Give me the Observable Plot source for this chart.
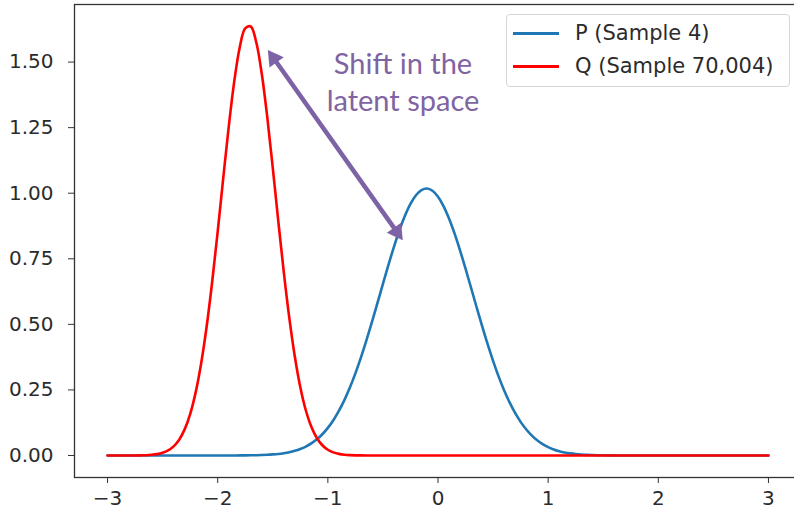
<!DOCTYPE html>
<html>
<head>
<meta charset="utf-8">
<script src="https://cdn.jsdelivr.net/npm/d3@7"></script>
<script src="https://cdn.jsdelivr.net/npm/@observablehq/plot@0.6"></script>
<style>
  html, body { margin: 0; padding: 0; background: #fff; }
  #wrap { position: relative; width: 794px; height: 514px; overflow: hidden; background: #fff; }
  #wrap svg { max-width: none !important; display: block; }
  #legend {
    position: absolute; left: 506px; top: 14px; width: 282px; height: 71px;
    border: 1px solid #d6d6d6; border-radius: 4px; background: rgba(255,255,255,0.85);
    font-family: "DejaVu Sans", sans-serif; font-size: 21px; color: #2b2b2b;
  }
  #legend .row { position: absolute; left: 0; height: 30px; width: 100%; }
  #legend .swatch { position: absolute; left: 6px; width: 46px; height: 3px; top: 14px; }
  #legend .label { position: absolute; left: 68px; top: 0; line-height: 30px; white-space: nowrap; }
</style>
</head>
<body>
<div id="wrap"><div id="legend"></div></div>
<script>
// Sample grid along the latent axis
const xs = [
  -3.00, -2.95, -2.90, -2.85, -2.80, -2.75, -2.70, -2.65, -2.60, -2.55,
  -2.50, -2.45, -2.40, -2.35, -2.30, -2.25, -2.20, -2.15, -2.10, -2.05,
  -2.00, -1.95, -1.90, -1.85, -1.80, -1.75, -1.70, -1.65, -1.60, -1.55,
  -1.50, -1.45, -1.40, -1.35, -1.30, -1.25, -1.20, -1.15, -1.10, -1.05,
  -1.00, -0.95, -0.90, -0.85, -0.80, -0.75, -0.70, -0.65, -0.60, -0.55,
  -0.50, -0.45, -0.40, -0.35, -0.30, -0.25, -0.20, -0.15, -0.10, -0.05,
   0.00,  0.05,  0.10,  0.15,  0.20,  0.25,  0.30,  0.35,  0.40,  0.45,
   0.50,  0.55,  0.60,  0.65,  0.70,  0.75,  0.80,  0.85,  0.90,  0.95,
   1.00,  1.05,  1.10,  1.15,  1.20,  1.25,  1.30,  1.35,  1.40,  1.45,
   1.50,  1.55,  1.60,  1.65,  1.70,  1.75,  1.80,  1.85,  1.90,  1.95,
   2.00,  2.05,  2.10,  2.15,  2.20,  2.25,  2.30,  2.35,  2.40,  2.45,
   2.50,  2.55,  2.60,  2.65,  2.70,  2.75,  2.80,  2.85,  2.90,  2.95,
   3.00
];

// P (Sample 4) density
const pValues = [
  0, 0, 0, 0, 0, 0, 0, 0, 0, 0,
  0, 0, 0, 0, 0, 0, 0, 0, 0, 0,
  0, 0.0001, 0.0001, 0.0002, 0.0003, 0.0005, 0.0008, 0.0012, 0.0018, 0.0027,
  0.0041, 0.0060, 0.0088, 0.0126, 0.0178, 0.0248, 0.0340, 0.0461, 0.0615, 0.0810,
  0.1052, 0.1345, 0.1697, 0.2111, 0.2589, 0.3130, 0.3732, 0.4387, 0.5083, 0.5808,
  0.6542, 0.7265, 0.7956, 0.8588, 0.9140, 0.9591, 0.9922, 1.0122, 1.0179, 1.0093,
  0.9866, 0.9510, 0.9037, 0.8467, 0.7820, 0.7122, 0.6395, 0.5661, 0.4941, 0.4252,
  0.3607, 0.3017, 0.2489, 0.2024, 0.1622, 0.1282, 0.0999, 0.0768, 0.0581, 0.0434,
  0.0320, 0.0232, 0.0166, 0.0117, 0.0082, 0.0056, 0.0038, 0.0025, 0.0017, 0.0011,
  0.0007, 0.0004, 0.0003, 0.0002, 0.0001, 0.0001, 0, 0, 0, 0,
  0, 0, 0, 0, 0, 0, 0, 0, 0, 0,
  0, 0, 0, 0, 0, 0, 0, 0, 0, 0,
  0
];

// Q (Sample 70,004) density
const qValues = [
  0, 0, 0, 0, 0.0001, 0.0002, 0.0006, 0.0012, 0.0026, 0.0053,
  0.0103, 0.0194, 0.0349, 0.0602, 0.0996, 0.1581, 0.2407, 0.3518, 0.4928, 0.6625,
  0.8540, 1.0562, 1.2527, 1.4255, 1.5558, 1.6287, 1.6355, 1.5754, 1.4554, 1.2900,
  1.0965, 0.8940, 0.6992, 0.5246, 0.3776, 0.2606, 0.1725, 0.1096, 0.0668, 0.0390,
  0.0219, 0.0118, 0.0061, 0.0030, 0.0014, 0.0006, 0.0003, 0.0001, 0, 0,
  0, 0, 0, 0, 0, 0, 0, 0, 0, 0,
  0, 0, 0, 0, 0, 0, 0, 0, 0, 0,
  0, 0, 0, 0, 0, 0, 0, 0, 0, 0,
  0, 0, 0, 0, 0, 0, 0, 0, 0, 0,
  0, 0, 0, 0, 0, 0, 0, 0, 0, 0,
  0, 0, 0, 0, 0, 0, 0, 0, 0, 0,
  0, 0, 0, 0, 0, 0, 0, 0, 0, 0,
  0
];

const seriesNames = ["P (Sample 4)", "Q (Sample 70,004)"];
const seriesColors = ["#1f77b4", "#ff0000"];

const xTicks = [-3, -2, -1, 0, 1, 2, 3];
const xTickLabels = ["\u22123", "\u22122", "\u22121", "0", "1", "2", "3"];
const yTicks = [0, 0.25, 0.5, 0.75, 1.0, 1.25, 1.5];
const yTickLabels = ["0.00", "0.25", "0.50", "0.75", "1.00", "1.25", "1.50"];

// Double-headed arrow between the two peaks, and its caption
const arrowX = [-1.545, -0.320];
const arrowY = [1.546, 0.821];
const noteLines = ["Shift in the", "latent space"];
const noteX = [-0.318];
const noteY = [1.429];

const purple = "#7d62a6";

const pRows = xs.map((x, i) => ({x, y: pValues[i]}));
const qRows = xs.map((x, i) => ({x, y: qValues[i]}));

const headR = 6.5;
const headOff = 1.555 * headR;  // centroid-to-tip distance of the triangle symbol
const ux = 0.579, uy = 0.815;   // unit direction of the shaft on screen

const chart = Plot.plot({
  width: 801,
  height: 514,
  marginLeft: 74,
  marginRight: 0,
  marginTop: 4,
  marginBottom: 37,
  style: {fontFamily: "DejaVu Sans, sans-serif", fontSize: "20px", color: "#2b2b2b", background: "transparent", maxWidth: "none"},
  x: {domain: [-3.3, 3.3], label: null},
  y: {domain: [-0.0839, 1.7195], label: null},
  marks: [
    Plot.line(pRows, {x: "x", y: "y", stroke: seriesColors[0], strokeWidth: 2.6, curve: "catmull-rom"}),
    Plot.line(qRows, {x: "x", y: "y", stroke: seriesColors[1], strokeWidth: 2.6, curve: "catmull-rom"}),
    Plot.arrow([0], {
      x1: () => arrowX[0], y1: () => arrowY[0], x2: () => arrowX[1], y2: () => arrowY[1],
      stroke: purple, strokeWidth: 4.5, headLength: 0, insetStart: 12, insetEnd: 12
    }),
    Plot.dot([0], {
      x: () => arrowX[0], y: () => arrowY[0], symbol: "triangle", r: headR,
      fill: purple, stroke: null, rotate: -35.4, dx: ux * headOff, dy: uy * headOff
    }),
    Plot.dot([0], {
      x: () => arrowX[1], y: () => arrowY[1], symbol: "triangle", r: headR,
      fill: purple, stroke: null, rotate: 144.6, dx: -ux * headOff, dy: -uy * headOff
    }),
    Plot.text([0], {
      x: () => noteX[0], y: () => noteY[0], text: () => noteLines.join("\n"),
      fill: "#8064A2", fontSize: 29, fontFamily: "Lato, sans-serif", lineHeight: 1.262,
      textAnchor: "middle"
    }),
    Plot.axisX(xTicks, {
      label: null, tickSize: 6, tickPadding: 7, stroke: "#333", fill: "#2b2b2b", fontSize: 20,
      tickFormat: d => xTickLabels[xTicks.indexOf(d)]
    }),
    Plot.axisY(yTicks, {
      label: null, tickSize: 6, tickPadding: 15, stroke: "#333", fill: "#2b2b2b", fontSize: 20,
      tickFormat: d => yTickLabels[yTicks.indexOf(d)]
    }),
    Plot.frame({stroke: "#333", strokeWidth: 1.3})
  ]
});

const wrap = document.getElementById("wrap");
wrap.insertBefore(chart, wrap.firstChild);

// Legend box in the upper right of the axes
const legend = document.getElementById("legend");
seriesNames.forEach((name, i) => {
  const row = document.createElement("div");
  row.className = "row";
  row.style.top = (3 + i * 33.4) + "px";
  const sw = document.createElement("div");
  sw.className = "swatch";
  sw.style.background = seriesColors[i];
  const lb = document.createElement("div");
  lb.className = "label";
  lb.textContent = name;
  row.appendChild(sw);
  row.appendChild(lb);
  legend.appendChild(row);
});
</script>
</body>
</html>
